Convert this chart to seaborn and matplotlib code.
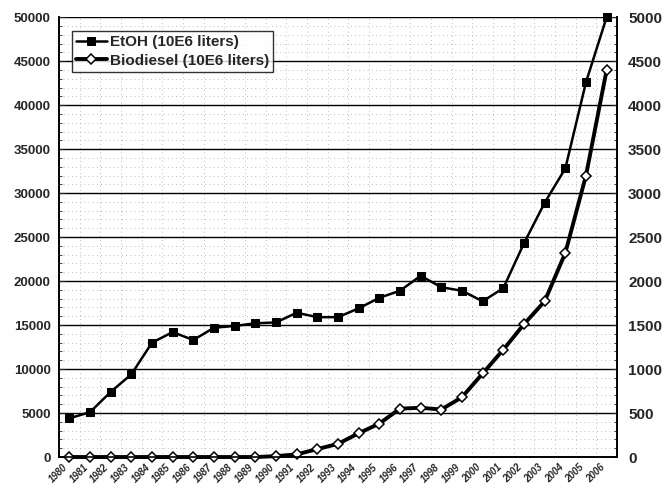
import pandas as pd
import numpy as np
import matplotlib
matplotlib.use("Agg")
import matplotlib.pyplot as plt
from matplotlib.ticker import MultipleLocator
import seaborn as sns

# === Datos
years = [str(y) for y in range(1980, 2007)]
etoh = [4400, 5100, 7400, 9400, 13000, 14200, 13300, 14700, 14900, 15200,
        15300, 16400, 15900, 15900, 16900, 18100, 18900, 20600, 19300, 18900,
        17700, 19200, 24300, 28900, 32800, 42600, 50000]
biodiesel = [0, 0, 0, 0, 0, 0, 0, 0, 0, 0,
             10, 30, 90, 150, 270, 380, 550, 560, 540, 680,
             950, 1220, 1510, 1770, 2320, 3200, 4400]

df = pd.DataFrame({"idx": range(len(years)), "year": years,
                   "etoh": etoh, "biodiesel": biodiesel})

sns.set_style("white")
plt.rcParams["font.family"] = ["Liberation Sans", "DejaVu Sans"]
plt.rcParams["font.weight"] = "bold"

fig = plt.figure(figsize=(6.66, 4.9), dpi=100)
ax = fig.add_axes([0.0886, 0.0673, 0.8378, 0.8977])
ax2 = ax.twinx()

# === Rejilla
ax.set_ylim(0, 50000)
ax.set_xlim(-0.5, len(years) - 0.5)
ax.yaxis.set_major_locator(MultipleLocator(5000))
ax.yaxis.set_minor_locator(MultipleLocator(1000))
ax.set_xticks(df["idx"])
ax.set_xticks(np.arange(-0.5, len(years), 1.0), minor=True)
ax.grid(which="major", axis="y", color="black", lw=1.0)
ax.grid(which="minor", axis="both", color="#aaaaaa", lw=0.6, ls=(0, (1, 4)))
ax.set_axisbelow(True)

# === Series
sns.lineplot(data=df, x="idx", y="etoh", ax=ax, color="black", lw=1.8,
             marker="s", markersize=5.5, markerfacecolor="black",
             markeredgecolor="black", label="EtOH (10E6 liters)", legend=False,
             clip_on=False)
sns.lineplot(data=df, x="idx", y="biodiesel", ax=ax2, color="black", lw=2.8,
             marker="D", markersize=5.5, markerfacecolor="white",
             markeredgecolor="black", markeredgewidth=1.1,
             label="Biodiesel (10E6 liters)", legend=False, clip_on=False)

ax2.set_ylim(0, 5000)
ax2.yaxis.set_major_locator(MultipleLocator(500))
ax2.yaxis.set_minor_locator(MultipleLocator(100))

for a in (ax, ax2):
    a.set_xlabel("")
    a.set_ylabel("")
    for s in a.spines.values():
        s.set_color("black")
        s.set_linewidth(1.2)
    a.spines["top"].set_visible(False)

ax.tick_params(axis="y", which="major", direction="in", length=4, labelsize=9.5, pad=6)
ax.tick_params(axis="y", which="minor", direction="in", length=2)
ax2.tick_params(axis="y", which="major", direction="in", length=4, labelsize=11, pad=8)
ax2.tick_params(axis="y", which="minor", direction="in", length=2)
ax.tick_params(axis="x", which="major", length=0, labelsize=7, pad=4)
ax.tick_params(axis="x", which="minor", direction="out", length=4)
ax.set_xticklabels(years, rotation=45, ha="right", style="italic")

h1, l1 = ax.get_legend_handles_labels()
h2, l2 = ax2.get_legend_handles_labels()
leg = ax2.legend(h1 + h2, l1 + l2, loc="upper left", bbox_to_anchor=(0.01, 0.985),
                 frameon=True, fancybox=False, fontsize=11, handlelength=2.0,
                 borderpad=0.25, labelspacing=0.3, handletextpad=0.2)
leg.get_frame().set_edgecolor("black")
leg.get_frame().set_linewidth(1.0)
for t in leg.get_texts():
    t.set_fontweight("bold")

fig.savefig("out.png", dpi=100)
